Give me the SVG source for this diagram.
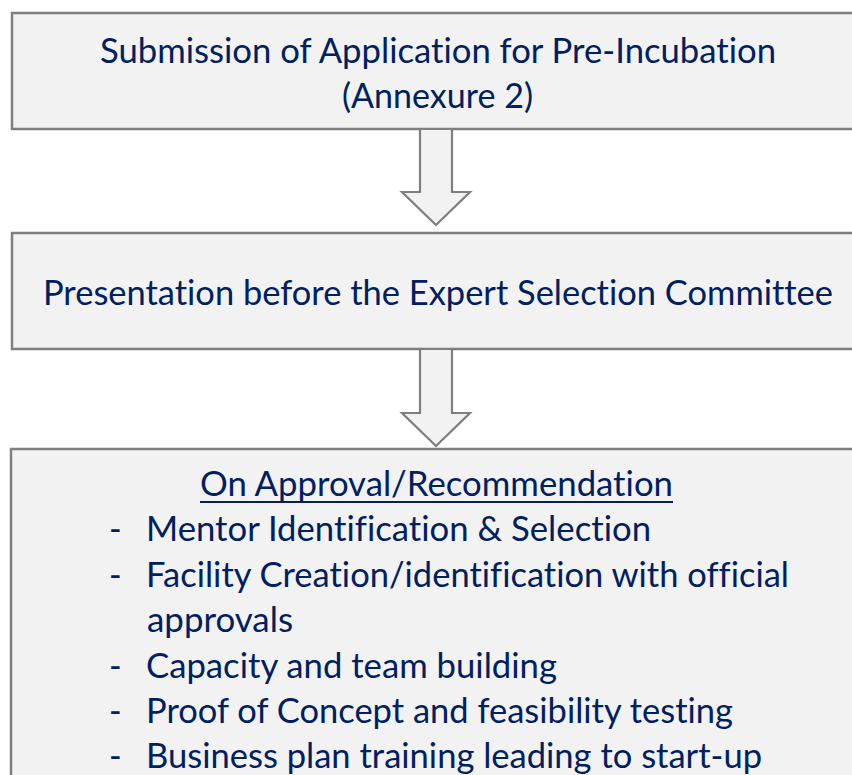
<svg xmlns="http://www.w3.org/2000/svg" width="852" height="775" viewBox="0 0 852 775">
<style>
.box{fill:#f2f2f2;stroke:#7f7f7f;stroke-width:2.5}
.arr{fill:#f2f2f2;stroke:#7f7f7f;stroke-width:2.2;stroke-linejoin:miter}
text{font-family:Lato,"Open Sans","Liberation Sans",sans-serif;font-size:34px;fill:#002060;font-variant-ligatures:none;font-feature-settings:"liga" 0,"dlig" 0}
</style>
<rect width="852" height="775" fill="#ffffff"/>
<g id="node-submission">
<rect class="box" x="12" y="13" width="860" height="116"/>
<text x="100" y="63" textLength="676" lengthAdjust="spacingAndGlyphs">Submission of Application for Pre-Incubation</text>
<text x="342" y="108" textLength="191" lengthAdjust="spacingAndGlyphs">(Annexure 2)</text>
</g>
<g id="node-presentation">
<rect class="box" x="12" y="233" width="860" height="116"/>
<text x="43" y="305" textLength="790" lengthAdjust="spacingAndGlyphs">Presentation before the Expert Selection Committee</text>
</g>
<g id="node-approval">
<rect class="box" x="11" y="449" width="860" height="340"/>
<text x="200" y="496" textLength="473" lengthAdjust="spacingAndGlyphs">On Approval/Recommendation</text>
<line x1="200" y1="502" x2="673" y2="502" stroke="#002060" stroke-width="2.2"/>
<text x="109" y="541">-</text>
<text x="146" y="541" textLength="505" lengthAdjust="spacingAndGlyphs">Mentor Identification &amp; Selection</text>
<text x="109" y="587">-</text>
<text x="146" y="587" textLength="643" lengthAdjust="spacingAndGlyphs">Facility Creation/identification with official</text>
<text x="147" y="632" textLength="146" lengthAdjust="spacingAndGlyphs">approvals</text>
<text x="109" y="678">-</text>
<text x="146" y="678" textLength="411" lengthAdjust="spacingAndGlyphs">Capacity and team building</text>
<text x="109" y="723">-</text>
<text x="146" y="723" textLength="587" lengthAdjust="spacingAndGlyphs">Proof of Concept and feasibility testing</text>
<text x="109" y="768">-</text>
<text x="146" y="768" textLength="616" lengthAdjust="spacingAndGlyphs">Business plan training leading to start-up</text>
</g>
<g id="connectors">
<polygon class="arr" points="420,129 452,129 452,192 470,192 436,225 402,192 420,192"/>
<polygon class="arr" points="420,349 452,349 452,413 470,413 436,446 402,413 420,413"/>
</g>
</svg>
